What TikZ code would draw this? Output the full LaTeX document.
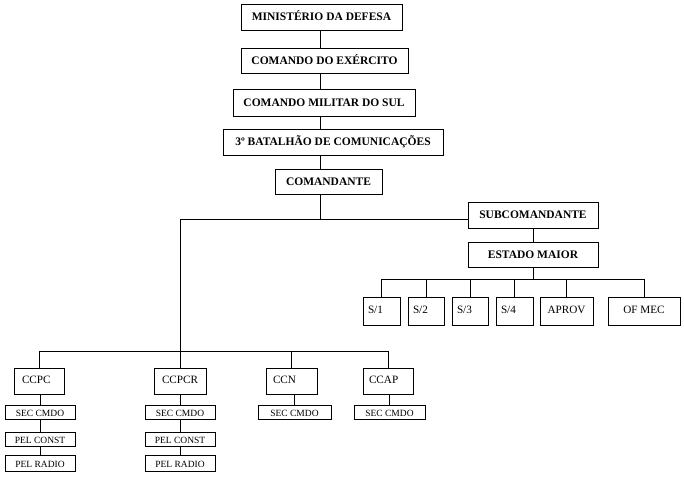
\documentclass[tikz,border=0pt]{standalone}
\usepackage{fontspec}
\setmainfont{Liberation Serif}
\usepackage{tikz}
\tikzstyle{unit}=[draw, line width=1pt, fill=white, inner sep=0, outer sep=0, anchor=north west]
\tikzstyle{bunit}=[unit, font=\fontsize{11.5}{11.5}\selectfont\bfseries, text height=16pt, text depth=9pt]
\tikzstyle{munit}=[unit, font=\fontsize{11.2}{11.2}\selectfont, text height=16pt, text depth=12pt]
\tikzstyle{lunit}=[munit, align=left, inner xsep=5pt]
\tikzstyle{cunit}=[munit, align=left, inner xsep=8pt, text height=15pt, text depth=11pt]
\tikzstyle{sunit}=[unit, font=\fontsize{9.5}{9.5}\selectfont, text height=11pt, text depth=3pt]
\tikzstyle{link}=[line width=1pt]

\begin{document}
\begin{tikzpicture}[x=1pt, y=-1pt]
    \useasboundingbox (0,0) rectangle (684,480);
    % chain of command
    \node[bunit, minimum width=161pt, minimum height=26pt] (mindef) at (241,4) {MINISTÉRIO DA DEFESA};
    \node[bunit, minimum width=167pt, minimum height=25pt] (cmdoex) at (241,48) {COMANDO DO EXÉRCITO};
    \node[bunit, minimum width=182pt, minimum height=27pt] (cms) at (233,89) {COMANDO MILITAR DO SUL};
    \node[bunit, minimum width=220pt, minimum height=26pt] (btl) at (223,129) {3º BATALHÃO DE COMUNICAÇÕES};
    \node[bunit, minimum width=107pt, minimum height=25pt] (cmt) at (275,169) {COMANDANTE};
    \node[bunit, minimum width=130pt, minimum height=26pt] (subcmt) at (468,202) {SUBCOMANDANTE};
    \node[bunit, minimum width=130pt, minimum height=25pt] (em) at (468,242) {ESTADO MAIOR};
    \coordinate (axis) at (320,0);
    \coordinate (cmtbus) at (0,219);
    \coordinate (embus) at (0,279);
    \coordinate (ccbus) at (0,351);
    \draw[link] (mindef.south -| axis) -- (cmdoex.north -| axis);
    \draw[link] (cmdoex.south -| axis) -- (cms.north -| axis);
    \draw[link] (cms.south -| axis) -- (btl.north -| axis);
    \draw[link] (btl.south -| axis) -- (cmt.north -| axis);
    \draw[link] (cmt.south -| axis) -- (axis |- cmtbus);
    \draw[link] (subcmt) -- (em);
    % staff
    \node[lunit, text width=27pt, minimum height=28pt] (s1) at (363,297) {S/1};
    \node[lunit, text width=26pt, minimum height=28pt] (s2) at (408,297) {S/2};
    \node[lunit, text width=26pt, minimum height=28pt] (s3) at (452,297) {S/3};
    \node[lunit, text width=27pt, minimum height=28pt] (s4) at (496,297) {S/4};
    \node[munit, minimum width=53pt, minimum height=28pt] (aprov) at (540,297) {APROV};
    \node[munit, minimum width=72pt, minimum height=28pt] (ofmec) at (608,297) {OF MEC};
    \draw[link] (em.south) -- (em.south |- embus);
    \draw[link] (s1.north |- embus) -- (ofmec.north |- embus);
    \foreach \st in {s1,s2,s3,s4,aprov,ofmec}
        \draw[link] (\st.north) -- (\st.north |- embus);
    % companies
    \node[cunit, text width=34pt, minimum height=26pt] (ccpc) at (14,368) {CCPC};
    \node[cunit, text width=36pt, minimum height=26pt] (ccpcr) at (154,368) {CCPCR};
    \node[cunit, text width=37pt, minimum height=26pt, inner xsep=7pt] (ccn) at (266,368) {CCN};
    \node[cunit, text width=38pt, minimum height=26pt, inner xsep=6pt] (ccap) at (363,368) {CCAP};
    \draw[link] (ccpcr.north) -- (ccpcr.north |- cmtbus) -- (subcmt.west |- cmtbus);
    \draw[link] (ccpc.north) -- (ccpc.north |- ccbus) -- (ccap.north |- ccbus) -- (ccap.north);
    \draw[link] (ccn.north) -- (ccn.north |- ccbus);
    % sections and platoons
    \node[sunit, minimum width=70pt, minimum height=14pt] (ccpcsec) at (5,405) {SEC CMDO};
    \node[sunit, minimum width=70pt, minimum height=14pt] (ccpcpelc) at (5,432) {PEL CONST};
    \node[sunit, minimum width=70pt, minimum height=16pt] (ccpcpelr) at (5,455) {PEL RADIO};
    \node[sunit, minimum width=70pt, minimum height=14pt] (ccpcrsec) at (145,405) {SEC CMDO};
    \node[sunit, minimum width=70pt, minimum height=14pt] (ccpcrpelc) at (145,432) {PEL CONST};
    \node[sunit, minimum width=70pt, minimum height=16pt] (ccpcrpelr) at (145,455) {PEL RADIO};
    \node[sunit, minimum width=73pt, minimum height=14pt] (ccnsec) at (258,405) {SEC CMDO};
    \node[sunit, minimum width=71pt, minimum height=14pt] (ccapsec) at (354,405) {SEC CMDO};
    \draw[link] (ccpc.south -| ccpcsec) -- (ccpcsec.north);
    \draw[link] (ccpcsec.south) -- (ccpcpelc.north);
    \draw[link] (ccpcpelc.south) -- (ccpcpelr.north);
    \draw[link] (ccpcr.south -| ccpcrsec) -- (ccpcrsec.north);
    \draw[link] (ccpcrsec.south) -- (ccpcrpelc.north);
    \draw[link] (ccpcrpelc.south) -- (ccpcrpelr.north);
    \draw[link] (ccn.south -| ccnsec) -- (ccnsec.north);
    \draw[link] (ccap.south -| ccapsec) -- (ccapsec.north);
\end{tikzpicture}
\end{document}
